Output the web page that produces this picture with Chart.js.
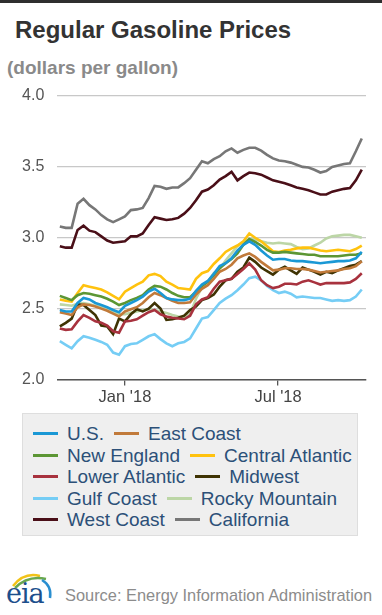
<!DOCTYPE html>
<html><head><meta charset="utf-8">
<script src="https://cdn.jsdelivr.net/npm/chart.js@4.4.1/dist/chart.umd.min.js"></script>
<style>
html,body{margin:0;padding:0;background:#fff;width:382px;height:615px;overflow:hidden;font-family:"Liberation Sans",Arial,sans-serif;}
#topbar{position:absolute;left:0;top:0;width:382px;height:3px;background:#2e2e2e;}
#title{position:absolute;left:15px;top:16px;font-weight:bold;font-size:24px;color:#333;white-space:nowrap;}
#subtitle{position:absolute;left:7px;top:57px;font-weight:bold;font-size:19px;color:#8a8a8a;white-space:nowrap;}
#wrap{position:absolute;left:0;top:0;width:382px;height:410px;}
#legend{position:absolute;left:21.5px;top:413px;width:336px;height:123px;background:#efefef;border:1px solid #dedede;box-sizing:border-box;padding:9px 0 0 10.5px;}
.lrow{display:flex;align-items:center;height:21.5px;}
.litem{display:flex;align-items:center;margin-right:10px;}
.lsw{width:25px;height:3px;margin-right:9px;}
.ltx{font-size:19px;color:#2c5078;white-space:nowrap;line-height:21.5px;}
#logo{position:absolute;left:4px;top:568px;width:50px;height:44px;}
#logotext{position:absolute;left:6px;top:578px;font-family:"DejaVu Serif","Liberation Serif",serif;font-size:27px;color:#1d4f8c;letter-spacing:-1px;}
#source{position:absolute;left:65px;top:586px;font-size:16.4px;color:#8c8c8c;white-space:nowrap;}
</style></head>
<body>
<div id="topbar"></div>
<div id="title">Regular Gasoline Prices</div>
<div id="subtitle">(dollars per gallon)</div>
<div id="wrap"><canvas id="c"></canvas></div>
<div id="legend"></div>
<svg id="logo" width="50" height="44" viewBox="0 0 50 44">
  <path d="M9 18 Q20 4 36 8" stroke="#f2c318" stroke-width="2.5" fill="none"/>
  <path d="M11 20 Q24 7 42 11" stroke="#6aa84f" stroke-width="2.5" fill="none"/>
  <path d="M38 12 Q48 18 46 30" stroke="#2a8fd0" stroke-width="2.5" fill="none"/>
</svg>
<div id="logotext">eia</div>
<div id="source">Source: Energy Information Administration</div>
<script>
const dates = ["2017-10-16","2017-10-23","2017-10-30","2017-11-06","2017-11-13","2017-11-20","2017-11-27","2017-12-04","2017-12-11","2017-12-18",
"2017-12-25","2018-01-01","2018-01-08","2018-01-15","2018-01-22","2018-01-29","2018-02-05","2018-02-12","2018-02-19","2018-02-26",
"2018-03-05","2018-03-12","2018-03-19","2018-03-26","2018-04-02","2018-04-09","2018-04-16","2018-04-23","2018-04-30","2018-05-07",
"2018-05-14","2018-05-21","2018-05-28","2018-06-04","2018-06-11","2018-06-18","2018-06-25","2018-07-02","2018-07-09","2018-07-16",
"2018-07-23","2018-07-30","2018-08-06","2018-08-13","2018-08-20","2018-08-27","2018-09-03","2018-09-10","2018-09-17","2018-09-24",
"2018-10-01","2018-10-08"];

const seriesNames = ["U.S.","East Coast","New England","Central Atlantic","Lower Atlantic","Midwest","Gulf Coast","Rocky Mountain","West Coast","California"];
const seriesColors = ["#1a98d5","#c17a3a","#5c9634","#ffc20e","#a8323e","#3f3303","#75cdf5","#bcd6a6","#4a0f18","#777777"];

const usPrices = [2.49,2.48,2.48,2.54,2.575,2.565,2.54,2.525,2.51,2.49,
2.475,2.52,2.54,2.56,2.585,2.62,2.64,2.61,2.575,2.565,
2.56,2.56,2.57,2.625,2.67,2.695,2.745,2.80,2.82,2.855,
2.91,2.95,2.975,2.95,2.91,2.875,2.845,2.85,2.85,2.84,
2.835,2.835,2.83,2.825,2.82,2.825,2.83,2.835,2.835,2.84,
2.855,2.90];
const eastCoast = [2.475,2.465,2.455,2.51,2.53,2.525,2.515,2.50,2.485,2.465,
2.445,2.48,2.495,2.51,2.54,2.58,2.61,2.595,2.575,2.555,
2.54,2.54,2.545,2.60,2.64,2.665,2.71,2.76,2.78,2.81,
2.855,2.875,2.89,2.865,2.83,2.80,2.77,2.775,2.785,2.785,
2.78,2.78,2.775,2.765,2.755,2.76,2.765,2.77,2.78,2.785,
2.80,2.835];
const newEngland = [2.59,2.575,2.56,2.595,2.61,2.605,2.595,2.585,2.57,2.55,
2.525,2.54,2.56,2.575,2.595,2.635,2.66,2.655,2.635,2.61,
2.59,2.58,2.58,2.62,2.66,2.69,2.735,2.785,2.82,2.85,
2.89,2.95,2.99,2.97,2.945,2.915,2.895,2.895,2.90,2.895,
2.89,2.885,2.88,2.88,2.87,2.87,2.87,2.87,2.875,2.88,
2.88,2.89];
const centralAtlantic = [2.565,2.555,2.55,2.61,2.665,2.655,2.645,2.635,2.615,2.59,
2.565,2.62,2.645,2.67,2.69,2.735,2.745,2.73,2.69,2.67,
2.645,2.64,2.635,2.71,2.75,2.765,2.815,2.855,2.90,2.925,
2.945,2.975,3.03,3.00,2.975,2.94,2.905,2.90,2.91,2.915,
2.925,2.93,2.93,2.92,2.91,2.905,2.91,2.915,2.91,2.905,
2.92,2.945];
const lowerAtlantic = [2.36,2.35,2.355,2.41,2.455,2.435,2.41,2.40,2.38,2.34,
2.33,2.41,2.415,2.425,2.45,2.475,2.49,2.46,2.445,2.435,
2.43,2.425,2.45,2.53,2.565,2.58,2.64,2.69,2.70,2.71,
2.745,2.78,2.82,2.775,2.70,2.665,2.645,2.655,2.675,2.675,
2.67,2.69,2.70,2.685,2.67,2.68,2.68,2.68,2.68,2.685,
2.71,2.75];
const midwest = [2.375,2.40,2.43,2.53,2.525,2.49,2.455,2.38,2.375,2.32,
2.43,2.41,2.46,2.495,2.48,2.50,2.54,2.50,2.42,2.425,
2.435,2.45,2.49,2.515,2.56,2.575,2.60,2.655,2.70,2.71,
2.76,2.79,2.86,2.83,2.79,2.765,2.74,2.775,2.795,2.77,
2.745,2.79,2.775,2.76,2.74,2.76,2.75,2.77,2.785,2.80,
2.81,2.835];
const gulfCoast = [2.27,2.245,2.22,2.27,2.305,2.295,2.28,2.265,2.245,2.19,
2.175,2.235,2.25,2.255,2.28,2.305,2.32,2.285,2.255,2.235,
2.255,2.265,2.29,2.36,2.43,2.44,2.49,2.54,2.57,2.595,
2.63,2.67,2.715,2.725,2.70,2.66,2.63,2.61,2.62,2.605,
2.58,2.585,2.58,2.575,2.575,2.565,2.555,2.56,2.555,2.56,
2.585,2.635];
const rockyMountain = [2.53,2.525,2.52,2.535,2.54,2.53,2.52,2.51,2.50,2.475,
2.46,2.46,2.47,2.48,2.49,2.495,2.49,2.48,2.47,2.455,
2.445,2.44,2.46,2.57,2.65,2.69,2.75,2.78,2.84,2.89,
2.94,2.97,2.99,2.99,2.975,2.965,2.96,2.965,2.96,2.955,
2.935,2.92,2.925,2.945,2.965,2.995,3.01,3.015,3.02,3.02,
3.01,3.00];
const westCoast = [2.94,2.93,2.93,3.055,3.085,3.05,3.04,3.01,2.98,2.965,
2.97,2.975,3.01,3.01,3.03,3.09,3.145,3.135,3.125,3.13,
3.14,3.17,3.21,3.265,3.325,3.34,3.37,3.41,3.435,3.465,
3.405,3.435,3.46,3.455,3.445,3.425,3.405,3.395,3.385,3.37,
3.355,3.345,3.335,3.32,3.305,3.305,3.325,3.335,3.345,3.35,
3.405,3.48];
const california = [3.08,3.07,3.07,3.24,3.275,3.23,3.20,3.16,3.13,3.11,
3.13,3.15,3.195,3.20,3.21,3.28,3.365,3.36,3.345,3.355,
3.355,3.385,3.42,3.48,3.54,3.525,3.555,3.575,3.61,3.63,
3.60,3.62,3.635,3.635,3.615,3.585,3.56,3.545,3.54,3.53,
3.515,3.50,3.495,3.48,3.46,3.47,3.50,3.51,3.52,3.525,
3.61,3.70];

const tickDates = ["2018-01-01","2018-07-01"];
const tickLabels = ["Jan '18","Jul '18"];
const yTicks = [2.0,2.5,3.0,3.5,4.0];
const axisStart = "2017-10-13", axisEnd = "2018-10-13";

const allSeries = [usPrices,eastCoast,newEngland,centralAtlantic,lowerAtlantic,midwest,gulfCoast,rockyMountain,westCoast,california];
const origin = Date.UTC(2017,9,16);
function dayOf(s){const p=s.split("-");return (Date.UTC(+p[0],+p[1]-1,+p[2])-origin)/86400000;}
const xs = dates.map(dayOf);

const datasets = allSeries.map((vals,k)=>({
  label: seriesNames[k],
  data: vals.map((v,i)=>({x:xs[i],y:v})),
  borderColor: seriesColors[k],
  backgroundColor: seriesColors[k],
  borderWidth: 2.6,
  pointRadius: 0,
  tension: 0,
  fill: false
}));

new Chart(document.getElementById('c'), {
  type:'line',
  data:{datasets},
  options:{
    responsive:true, maintainAspectRatio:false, animation:false,
    layout:{padding:{left:0,right:16,top:96,bottom:5}},
    plugins:{legend:{display:false},tooltip:{enabled:false}},
    scales:{
      x:{type:'linear',min:dayOf(axisStart),max:dayOf(axisEnd),
        afterBuildTicks:(s)=>{s.ticks=tickDates.map(d=>({value:dayOf(d)}));},
        afterFit:(s)=>{s.height=25.5;},
        ticks:{callback:(v,i)=>tickLabels[i],color:'#444',font:{family:'"Liberation Sans",Arial',size:16.5},padding:2,maxRotation:0,autoSkip:false},
        grid:{drawOnChartArea:false,drawTicks:true,tickLength:6,color:'#555',lineWidth:1.3},
        border:{display:true,color:'#555',width:1.5}
      },
      y:{type:'linear',min:2,max:4,
        afterBuildTicks:(s)=>{s.ticks=yTicks.map(v=>({value:v}));},
        afterFit:(s)=>{s.width=57.3;},
        ticks:{callback:(v)=>v.toFixed(1),color:'#555',font:{family:'"Liberation Sans",Arial',size:16},padding:13},
        grid:{drawTicks:false,color:'#c8c8c8',lineWidth:1.3},
        border:{display:false}
      }
    }
  }
});

const leg = document.getElementById('legend');
for(let r=0;r<seriesNames.length;r+=2){
  const row=document.createElement('div');row.className='lrow';
  for(let k=r;k<Math.min(r+2,seriesNames.length);k++){
    const it=document.createElement('div');it.className='litem';
    const sw=document.createElement('div');sw.className='lsw';sw.style.background=seriesColors[k];
    const tx=document.createElement('span');tx.className='ltx';tx.textContent=seriesNames[k];
    it.appendChild(sw);it.appendChild(tx);row.appendChild(it);
  }
  leg.appendChild(row);
}
</script>
</body></html>
